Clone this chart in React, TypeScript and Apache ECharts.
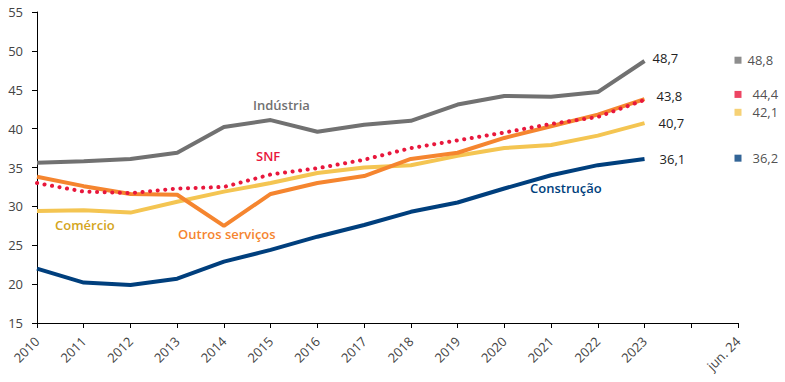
import React, { useEffect, useRef } from "react";
import * as echarts from "echarts";

const categories = ["2010","2011","2012","2013","2014","2015","2016","2017","2018","2019","2020","2021","2022","2023","","jun. 24"];

const industria = [35.6, 35.8, 36.1, 36.9, 40.2, 41.1, 39.6, 40.5, 41.0, 43.1, 44.2, 44.1, 44.7, 48.7];
const snf = [33.0, 31.9, 31.7, 32.3, 32.5, 34.1, 34.9, 36.0, 37.5, 38.5, 39.5, 40.6, 41.5, 43.7];
const outros = [33.8, 32.6, 31.6, 31.5, 27.5, 31.6, 33.0, 33.9, 36.1, 36.9, 38.8, 40.3, 41.8, 43.8];
const comercio = [29.4, 29.5, 29.2, 30.6, 31.9, 33.0, 34.3, 35.0, 35.3, 36.5, 37.5, 37.9, 39.1, 40.7];
const construcao = [22.0, 20.2, 19.9, 20.7, 22.9, 24.4, 26.1, 27.6, 29.3, 30.5, 32.3, 34.0, 35.3, 36.1];

const endLabels = ["48,7", "43,8", "40,7", "36,1"];
const jun24 = [48.8, 44.4, 42.1, 36.2];
const jun24Labels = ["48,8", "44,4", "42,1", "36,2"];

const FONT = "Open Sans";
const GRAY = "#717171";
const RED = "#e8173c";
const ORANGE = "#f5852f";
const YELLOW = "#f4c552";
const NAVY = "#003f7d";

function endLabel(text: string, offset: [number, number]) {
  return {
    show: true,
    formatter: text,
    distance: 0,
    offset,
    color: "#222",
    fontFamily: FONT,
    fontSize: 13,
  };
}

export default function App() {
  const ref = useRef<HTMLDivElement>(null);
  useEffect(() => {
    if (!ref.current) return;
    const chart = echarts.init(ref.current, null, { renderer: "svg" });
    const lineBase = (name: string, color: string, data: any[], extra: any = {}) => ({
      name,
      type: "line",
      data,
      symbol: "none",
      lineStyle: { color, width: 4 },
      itemStyle: { color },
      z: 2,
      ...extra,
    });
    const sqColors = [GRAY, RED, YELLOW, NAVY];
    chart.setOption({
      animation: false,
      grid: { left: 37, right: 47, top: 12, bottom: 59, containLabel: false },
      xAxis: {
        type: "category",
        data: categories,
        boundaryGap: false,
        axisLine: { lineStyle: { color: "#000", width: 1 } },
        axisTick: { show: true, alignWithLabel: true, length: 5, lineStyle: { color: "#000" } },
        axisLabel: {
          rotate: 45,
          interval: 0,
          color: "#444",
          fontFamily: FONT,
          fontSize: 13,
          margin: 16,
        },
      },
      yAxis: {
        type: "value",
        min: 15,
        max: 55,
        interval: 5,
        splitLine: { show: false },
        axisLine: { show: true, lineStyle: { color: "#000", width: 1 } },
        axisTick: { show: true, length: 5, lineStyle: { color: "#000" } },
        axisLabel: { color: "#444", fontFamily: FONT, fontSize: 13, margin: 14 },
      },
      series: [
        lineBase("Indústria", GRAY, industria, { endLabel: endLabel(endLabels[0], [8, -3]) }),
        lineBase("Comércio", YELLOW, comercio, { endLabel: endLabel(endLabels[2], [14, 0]) }),
        lineBase("Construção", NAVY, construcao, { endLabel: endLabel(endLabels[3], [15, 0]) }),
        lineBase("Outros serviços", ORANGE, outros, { z: 3, endLabel: endLabel(endLabels[1], [12, -3]) }),
        lineBase("SNF", RED, snf, {
          lineStyle: { color: RED, width: 4, type: [0.1, 7.5], cap: "round" },
          z: 4,
        }),
        {
          name: "jun24",
          type: "scatter",
          symbol: "rect",
          symbolSize: 7,
          data: jun24.map((v, i) => ({
            value: [15, v],
            itemStyle: { color: sqColors[i] },
            label: {
              show: true,
              position: "right",
              distance: i === 0 ? 6 : 11,
              formatter: jun24Labels[i],
              color: "#222",
              fontFamily: FONT,
              fontSize: 13,
            },
          })),
          z: 5,
        },
      ],
      graphic: [
        { type: "text", left: 253, top: 98, style: { text: "Indústria", fill: GRAY, font: `600 13px '${FONT}'` } },
        { type: "text", left: 256, top: 149, style: { text: "SNF", fill: RED, font: `600 13px '${FONT}'` } },
        { type: "text", left: 55, top: 218, style: { text: "Comércio", fill: "#d4a520", font: `600 13px '${FONT}'` } },
        { type: "text", left: 178, top: 227, style: { text: "Outros serviços", fill: ORANGE, font: `600 13px '${FONT}'` } },
        { type: "text", left: 530, top: 181, style: { text: "Construção", fill: NAVY, font: `600 13px '${FONT}'` } },
      ],
    });
    return () => chart.dispose();
  }, []);
  return (
    <div
      ref={ref}
      style={{ position: "fixed", left: 0, top: 0, width: 785, height: 382, background: "#fff" }}
    />
  );
}
